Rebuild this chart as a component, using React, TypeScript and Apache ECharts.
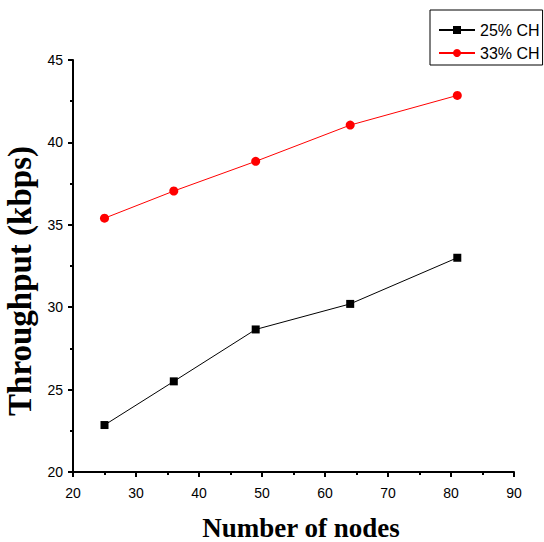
import React, { useEffect, useRef } from "react";
import * as echarts from "echarts";

const nodes = [25, 36, 49, 64, 81];
const ch25 = [22.85, 25.5, 28.65, 30.2, 33.0];
const ch33 = [35.4, 37.05, 38.85, 41.05, 42.85];
const seriesNames = ["25% CH", "33% CH"];

export default function App() {
  const ref = useRef<HTMLDivElement>(null);
  useEffect(() => {
    if (!ref.current) return;
    const chart = echarts.init(ref.current, null, { renderer: "svg" });
    const axisCommon = {
      axisLine: { show: true, onZero: false, lineStyle: { color: "#000", width: 2 } },
      axisTick: { show: true, inside: false, length: 5, lineStyle: { color: "#000", width: 2 } },
      minorTick: { show: true, splitNumber: 2, length: 3, lineStyle: { color: "#000", width: 2 } },
      splitLine: { show: false },
    };
    const labelStyle = { color: "#000", fontSize: 14, fontFamily: "Liberation Sans, Arial, sans-serif" };
    chart.setOption({
      animation: false,
      backgroundColor: "#fff",
      grid: { left: 73, right: 30, top: 60, bottom: 70, containLabel: false, outerBoundsMode: "none" },
      legend: {
        left: 430,
        top: 10,
        orient: "vertical",
        itemWidth: 36,
        itemHeight: 10,
        itemGap: 7,
        padding: [12, 3, 4, 8],
        borderColor: "#000",
        borderWidth: 1,
        borderRadius: 0,
        textStyle: { color: "#000", fontSize: 16, fontFamily: "Liberation Sans, Arial, sans-serif" },
        data: seriesNames,
      },
      xAxis: {
        type: "value",
        min: 20,
        max: 90,
        interval: 10,
        name: "Number of nodes",
        nameLocation: "middle",
        nameGap: 43,
        nameTextStyle: {
          color: "#000",
          fontSize: 27,
          lineHeight: 25,
          fontWeight: "bold",
          fontFamily: "Liberation Serif, Times New Roman, serif",
          padding: [0, 0, 0, 15],
        },
        axisLabel: { ...labelStyle, margin: 14 },
        ...axisCommon,
      },
      yAxis: {
        type: "value",
        min: 20,
        max: 45,
        interval: 5,
        name: "Throughput (kbps)",
        nameLocation: "middle",
        nameGap: 36,
        nameTextStyle: {
          color: "#000",
          fontSize: 33,
          fontWeight: "bold",
          fontFamily: "Liberation Serif, Times New Roman, serif",
          padding: [0, 30, 0, 0],
        },
        axisLabel: { ...labelStyle, margin: 10 },
        ...axisCommon,
      },
      series: [
        {
          name: seriesNames[0],
          type: "line",
          data: nodes.map((n, i) => [n, ch25[i]]),
          symbol: "rect",
          symbolSize: 8,
          color: "#000",
          lineStyle: { color: "#000", width: 1 },
          itemStyle: { color: "#000" },
        },
        {
          name: seriesNames[1],
          type: "line",
          data: nodes.map((n, i) => [n, ch33[i]]),
          symbol: "circle",
          symbolSize: 9,
          color: "#ff0000",
          lineStyle: { color: "#ff0000", width: 1 },
          itemStyle: { color: "#ff0000" },
        },
      ],
    });
    return () => chart.dispose();
  }, []);
  return (
    <div
      ref={ref}
      style={{ position: "fixed", left: 0, top: 0, width: 544, height: 542, background: "#fff" }}
    />
  );
}
